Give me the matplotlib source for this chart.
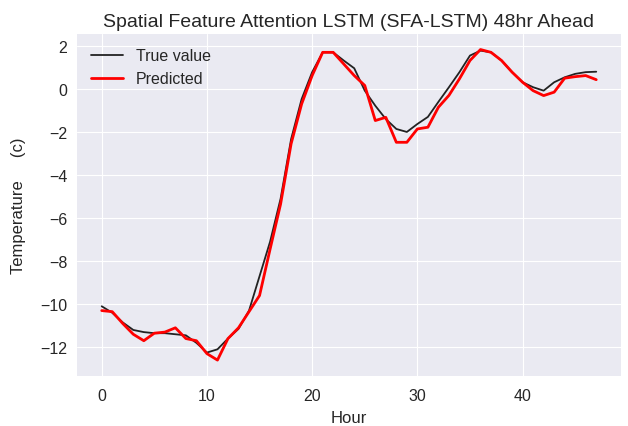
import matplotlib
matplotlib.use("Agg")
import matplotlib.pyplot as plt

plt.style.use("seaborn-v0_8-darkgrid")
plt.rcParams["font.family"] = ["Liberation Sans", "DejaVu Sans"]

hours = list(range(48))

true_value = [-10.1, -10.4, -10.85, -11.2, -11.3, -11.35, -11.35, -11.4, -11.45, -11.8,
              -12.25, -12.1, -11.6, -11.15, -10.3, -8.7, -7.1, -5.1, -2.33, -0.47,
              0.78, 1.7, 1.7, 1.32, 0.96, -0.08, -0.78, -1.4, -1.86, -2.0,
              -1.63, -1.3, -0.6, 0.08, 0.78, 1.55, 1.78, 1.7, 1.32, 0.78,
              0.31, 0.08, -0.08, 0.31, 0.54, 0.7, 0.78, 0.8]

predicted = [-10.3, -10.35, -10.9, -11.4, -11.7, -11.35, -11.3, -11.1, -11.6, -11.7,
             -12.3, -12.6, -11.6, -11.1, -10.35, -9.6, -7.45, -5.35, -2.55, -0.7,
             0.62, 1.7, 1.7, 1.16, 0.62, 0.16, -1.47, -1.32, -2.48, -2.48,
             -1.86, -1.78, -0.85, -0.3, 0.47, 1.32, 1.83, 1.7, 1.32, 0.78,
             0.31, -0.08, -0.31, -0.15, 0.5, 0.57, 0.62, 0.43]

fig = plt.figure(figsize=(6.28, 4.27), dpi=100)
ax = fig.add_axes([0.1226, 0.118, 0.8662, 0.80])

ax.plot(hours, true_value, color="#222222", linewidth=1.3, label="True value")
ax.plot(hours, predicted, color="red", linewidth=2, label="Predicted")

ax.set_yticks([2, 0, -2, -4, -6, -8, -10, -12])
ax.set_xticks([0, 10, 20, 30, 40])
ax.tick_params(labelsize=11.5)
ax.tick_params(axis="x", pad=9)
ax.tick_params(axis="y", pad=7)

ax.set_title("Spatial Feature Attention LSTM (SFA-LSTM) 48hr Ahead", fontsize=14)
ax.set_xlabel("Hour", fontsize=12, labelpad=5)
ax.set_ylabel("Temperature     (c)", fontsize=12, labelpad=10)
ax.legend(loc="upper left", fontsize=11.5)

fig.savefig("out.png", dpi=100)
